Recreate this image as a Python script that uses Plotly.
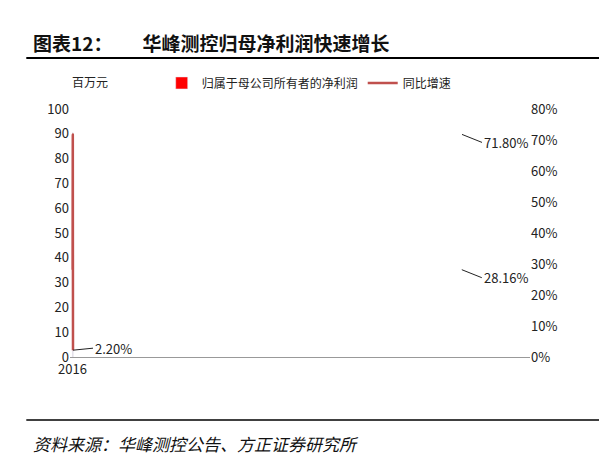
import plotly.graph_objects as go

categories = ["2016", "2017", "2018", "2019Q1-3"]
profit = [41.21, 52.81, 90.73, 81.37]
growth_cats = ["2017", "2018", "2019Q1-3"]
growth = [28.16, 71.80, 2.20]

font = "Noto Sans CJK SC"
fig = go.Figure()
fig.add_trace(go.Bar(x=categories, y=profit, name="归属于母公司所有者的净利润",
                     marker_color="#FF0000", width=0.4,
                     text=[f"{v:.2f}" for v in profit], textposition="outside",
                     textfont=dict(size=13, color="#222"), cliponaxis=False))
fig.add_trace(go.Scatter(x=growth_cats, y=growth, name="同比增速", yaxis="y2",
                         mode="lines", line=dict(color="#C0504D", width=2.5, shape="spline", smoothing=1.3)))
for c, v in zip(growth_cats, growth):
    fig.add_annotation(x=c, y=v, yref="y2", text=f"{v:.2f}%", showarrow=True,
                       arrowhead=0, arrowwidth=1, arrowcolor="#222", ax=20, ay=8 if v > 5 else -2,
                       xanchor="left", font=dict(size=13, color="#222"))
fig.add_annotation(x=0.0, y=1.11, xref="paper", yref="paper", text="百万元", showarrow=False,
                   xanchor="left", yanchor="middle", font=dict(size=12, color="#222"))
fig.add_annotation(x=-0.085, y=1.27, xref="paper", yref="paper",
                   text="<b>图表12：       华峰测控归母净利润快速增长</b>",
                   showarrow=False, xanchor="left", yanchor="middle", font=dict(size=19, color="#111", family=font))
fig.add_annotation(x=-0.085, y=-0.35, xref="paper", yref="paper",
                   text="<i>资料来源：华峰测控公告、方正证券研究所</i>",
                   showarrow=False, xanchor="left", yanchor="middle", font=dict(size=17, color="#111", family=font))
fig.add_shape(type="line", xref="paper", yref="paper", x0=-0.095, x1=1.15, y0=1.206, y1=1.206,
              line=dict(color="#000", width=2))
fig.add_shape(type="line", xref="paper", yref="paper", x0=-0.095, x1=1.15, y0=-0.254, y1=-0.254,
              line=dict(color="#000", width=1.5))

fig.update_layout(
    width=609, height=468, paper_bgcolor="white", plot_bgcolor="white",
    margin=dict(l=62, r=87, t=101, b=119),
    font=dict(family=font, size=13, color="#222"),
    showlegend=True,
    legend=dict(orientation="h", x=0.52, y=1.105, xanchor="center", yanchor="middle", font=dict(size=12)),
    xaxis=dict(type="category", showline=True, linecolor="#999", ticks="", tickfont=dict(size=13)),
    yaxis=dict(range=[0, 100], dtick=10, showgrid=False, showline=False, ticks="", tickfont=dict(size=13)),
    yaxis2=dict(range=[0, 80], dtick=10, overlaying="y", side="right", ticksuffix="%", showgrid=False,
                showline=False, tickfont=dict(size=13)),
)
fig.write_html("out.html")
